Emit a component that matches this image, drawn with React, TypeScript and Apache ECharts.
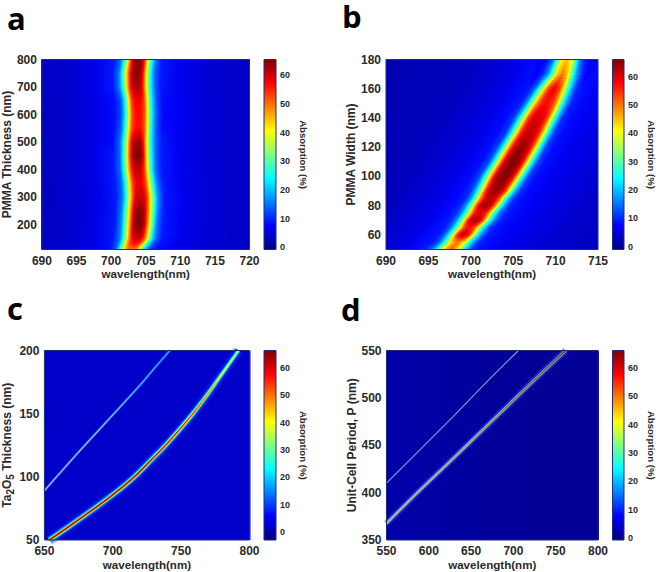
import React, { useEffect, useRef } from "react";
import * as echarts from "echarts";

// ---------- tick labels ----------
const aXTicks = [690, 695, 700, 705, 710, 715, 720];
const aYTicks = [200, 300, 400, 500, 600, 700, 800];
const bXTicks = [690, 695, 700, 705, 710, 715];
const bYTicks = [60, 80, 100, 120, 140, 160, 180];
const cXTicks = [650, 700, 750, 800];
const cYTicks = [50, 100, 150, 200];
const dXTicks = [550, 600, 650, 700, 750, 800];
const dYTicks = [350, 400, 450, 500, 550];
const barTicks = [0, 10, 20, 30, 40, 50, 60];

// ---------- panel a: ridge, read row by row ----------
const aRowThickness = [110, 150, 200, 250, 300, 350, 400, 450, 500, 550, 600, 650, 700, 750, 800];
const aRowCentre = [703.2, 703.8, 704.0, 704.1, 704.2, 704.05, 703.85, 703.82, 703.8, 703.9, 703.95, 703.9, 703.7, 703.7, 703.9];
const aOffsets = [-20, -14, -9, -6, -3.5, -2.6, -2.2, -1.75, -1.3, -0.87, -0.44, 0, 0.44, 0.87, 1.3, 1.75, 2.2, 2.6, 3.5, 6, 9, 14, 20];
const aLeftTail = [2.5, 3.5, 4.5, 6];
const aRightTail = [6.5, 5, 4, 3];
const aProfiles = [
  [8, 13, 20, 32, 42, 48, 50, 50, 48, 40, 28, 19, 13, 10, 8],
  [9, 15, 22, 33, 46, 56, 60, 61, 60, 55, 45, 33, 22, 15, 9],
  [9, 16, 24, 36, 48, 60, 65, 66, 65, 60, 48, 36, 23, 15, 9],
  [9, 16, 24, 36, 48, 60, 64, 65, 64, 59, 48, 36, 24, 16, 9],
  [9, 15, 22, 33, 46, 56, 60, 61, 60, 56, 46, 35, 24, 16, 9],
  [9, 14, 21, 31, 44, 54, 58, 59, 58, 54, 44, 32, 22, 15, 9],
  [9, 14, 22, 32, 46, 56, 60, 61, 60, 55, 44, 31, 21, 14, 9],
  [9, 14, 22, 33, 48, 60, 65, 66, 65, 58, 43, 30, 21, 14, 9],
  [8, 14, 21, 31, 46, 58, 63, 64, 63, 56, 42, 29, 20, 14, 9],
  [8, 13, 19, 29, 43, 53, 56, 57, 56, 52, 41, 28, 19, 13, 8],
  [8, 12, 18, 28, 42, 53, 56, 57, 56, 52, 41, 28, 19, 13, 8],
  [8, 12, 18, 28, 43, 54, 57, 58, 57, 53, 41, 28, 19, 13, 8],
  [9, 15, 22, 33, 47, 58, 62, 63, 62, 56, 43, 30, 21, 14, 9],
  [9, 15, 23, 35, 48, 59, 64, 65, 64, 58, 44, 31, 21, 14, 9],
  [9, 14, 21, 31, 46, 58, 64, 65, 64, 58, 44, 30, 21, 14, 9],
];

// ---------- panel b: ridge, read row by row ----------
const bRowWidth = [50, 55, 60, 65, 70, 75, 80, 85, 90, 100, 110, 120, 130, 140, 150, 160, 170, 180];
const bRowCentre = [697.6, 698.4, 699.1, 699.8, 700.5, 701.1, 701.7, 702.3, 702.9, 703.9, 705.0, 706.0, 707.0, 707.9, 708.9, 709.8, 710.8, 711.3];
const bOffsets = [-25, -12, -8, -5.5, -3.8, -2.9, -2.3, -1.65, -1.15, -0.66, 0, 0.66, 1.15, 1.65, 2.3, 2.9, 3.8, 5.5, 8, 12, 25];
const bLeftTail = [2, 3, 4.5, 6, 8];
const bRightTail = [8, 6.5, 5.5, 4, 2];
const bProfiles = [
  [10, 14, 24, 36, 45, 52, 45, 36, 23, 13, 9],
  [9, 12, 22, 34, 44, 50, 44, 34, 22, 12, 9],
  [9, 13, 24, 40, 57, 63, 57, 42, 26, 14, 9],
  [9, 13, 25, 38, 52, 58, 52, 38, 25, 13, 9],
  [10, 15, 28, 46, 60, 64, 60, 47, 29, 16, 10],
  [10, 15, 28, 44, 56, 60, 56, 44, 28, 15, 10],
  [10, 17, 32, 50, 61, 64, 61, 50, 33, 17, 10],
  [10, 17, 33, 49, 59, 62, 59, 50, 33, 17, 10],
  [11, 20, 38, 55, 62, 65, 62, 55, 38, 20, 11],
  [12, 24, 43, 58, 64, 66, 64, 58, 43, 24, 12],
  [12, 24, 44, 58, 64, 66, 64, 58, 43, 24, 12],
  [12, 23, 43, 56, 62, 65, 62, 56, 42, 23, 11],
  [11, 22, 40, 54, 60, 62, 60, 54, 40, 21, 11],
  [11, 21, 38, 53, 59, 61, 59, 53, 38, 21, 10],
  [10, 18, 35, 48, 55, 58, 55, 48, 34, 18, 10],
  [9, 14, 28, 42, 54, 59, 54, 42, 28, 14, 9],
  [7, 10, 18, 30, 43, 50, 43, 30, 18, 10, 7],
  [6, 8, 14, 26, 40, 45, 40, 26, 14, 8, 6],
];

// ---------- panel c: background and two ridges ----------
const cBgWave = [650, 800];
const cBgThick = [50, 200];
const cBgValues = [[2.0]];
const cMainWave = [653.6, 674.2, 698.4, 715.4, 729.9, 739.9, 756.8, 768.9, 781, 792];
const cMainThick = [50, 65.5, 84.5, 99.6, 115.4, 126.5, 147.6, 164.7, 183.2, 200];
const cMainPeak = [65, 65, 64, 63, 62, 60, 56, 48, 40, 35];
const cSecondWave = [650, 660.9, 674.2, 686.3, 697.2, 720.5, 730.1, 741.7];
const cSecondThick = [89, 102.5, 118.6, 132.9, 145.7, 173.2, 185.5, 200];
const cSecondColours = ["#98b2d6", "#94b6da", "#90bce0", "#8cc0e2", "#7cbce6", "#50aeea", "#40a6ea", "#389ee8"];

// ---------- panel d: background and two ridges ----------
const dBgWave = [550, 570, 590, 620, 660, 720, 800];
const dBgPeriod = [350, 550];
const dBgValues = [[2.0, 1.8, 1.6, 1.3, 1.0, 0.8]];
const dMainWave = [550, 588.8, 616.4, 647.9, 678.6, 696, 719.6, 743.3, 762];
const dMainPeriod = [367.5, 402, 425.5, 452.5, 479, 494, 514.5, 534.5, 550];
const dMainCore = ["#a8a8a6", "#a4a4a0", "#a09f96", "#98967c", "#8f8458", "#86683c", "#7a4a28", "#6c3018", "#642410"];
const dSecondWave = [550, 624, 672, 706];
const dSecondPeriod = [410, 476, 520, 550];

// ---------- colour scale ----------
const jetStops: [number, number[]][] = [
  [0, [0, 0, 0.5]],
  [0.125, [0, 0, 1]],
  [0.375, [0, 1, 1]],
  [0.625, [1, 1, 0]],
  [0.875, [1, 0, 0]],
  [1, [0.5, 0, 0]],
];
function jet(t: number) {
  const u = Math.max(0, Math.min(1, t));
  for (let i = 1; i < jetStops.length; i++) {
    if (u <= jetStops[i][0]) {
      const [a, ca] = jetStops[i - 1];
      const [b, cb] = jetStops[i];
      const f = (u - a) / (b - a);
      const c = ca.map((q, k) => Math.round(255 * (q + (cb[k] - q) * f)));
      return `rgb(${c[0]},${c[1]},${c[2]})`;
    }
  }
  return "rgb(128,0,0)";
}

const TEXT = "#2a2a2a";
const FRAME = "#1f2c7c";
const FONT = "Liberation Sans";

type Panel = {
  left: number; right: number; top: number; bottom: number;
  barLeft: number; barRight: number;
  xMin: number; xMax: number; yMin: number; yMax: number;
  xTicks: number[]; yTicks: number[];
  barMin: number; barMax: number;
  yName: string; yGap: number;
};

const panels: Panel[] = [
  { left: 38, right: 249.5, top: 59.5, bottom: 249.5, barLeft: 264, barRight: 276, xMin: 690, xMax: 720, yMin: 110, yMax: 800, xTicks: aXTicks, yTicks: aYTicks, barMin: -0.8, barMax: 65.5, yName: "PMMA Thickness (nm)", yGap: 22 },
  { left: 386, right: 598, top: 59.5, bottom: 249.5, barLeft: 612.5, barRight: 624, xMin: 690, xMax: 715, yMin: 50, yMax: 180, xTicks: bXTicks, yTicks: bYTicks, barMin: -1, barMax: 66, yName: "PMMA Width (nm)", yGap: 19 },
  { left: 43, right: 249.5, top: 350.5, bottom: 540, barLeft: 264, barRight: 276, xMin: 650, xMax: 800, yMin: 50, yMax: 200, xTicks: cXTicks, yTicks: cYTicks, barMin: -2.9, barMax: 66.4, yName: "{b|Ta}{s|2}{b|O}{s|5}{b| Thickness (nm)}", yGap: 26 },
  { left: 386.5, right: 598, top: 350.5, bottom: 540, barLeft: 612.5, barRight: 624, xMin: 550, xMax: 800, yMin: 350, yMax: 550, xTicks: dXTicks, yTicks: dYTicks, barMin: -0.7, barMax: 66.2, yName: "Unit-Cell Period, P (nm)", yGap: 19 },
];

const letters = [
  { text: "a", x: 7, y: 2.5 },
  { text: "b", x: 342, y: 0 },
  { text: "c", x: 7, y: 292.5 },
  { text: "d", x: 341, y: 293.5 },
];

function mergeProfile(left: number[], mid: number[], right: number[]) {
  return [...left, ...mid, ...right];
}

function ridgeSeries(idx: number, p: Panel, ys: number[], centres: number[], offsets: number[], profiles: number[][]) {
  const span = p.barMax - p.barMin;
  const o0 = offsets[0];
  const oN = offsets[offsets.length - 1];
  const SUB = 5;
  return {
    type: "custom",
    coordinateSystem: "cartesian2d",
    xAxisIndex: idx * 2,
    yAxisIndex: idx * 2,
    clip: true,
    silent: true,
    z: 2,
    data: ys.map((y, i) => [centres[i], y]),
    renderItem: (params: any, api: any) => {
      const i = params.dataIndex;
      if (i >= ys.length - 1) return null;
      const children: any[] = [];
      for (let s = 0; s < SUB; s++) {
        const f1 = s / SUB;
        const f2 = (s + 1) / SUB;
        const fm = (f1 + f2) / 2;
        const c1 = centres[i] + (centres[i + 1] - centres[i]) * f1;
        const c2 = centres[i] + (centres[i + 1] - centres[i]) * f2;
        const y1 = ys[i] + (ys[i + 1] - ys[i]) * f1;
        const y2 = ys[i] + (ys[i + 1] - ys[i]) * f2;
        const A = api.coord([c1 + o0, y1]);
        const B = api.coord([c1 + oN, y1]);
        const C = api.coord([c2 + oN, y2]);
        const D = api.coord([c2 + o0, y2]);
        const ex = D[0] - A[0];
        const ey = D[1] - A[1];
        const len = Math.hypot(ex, ey);
        const nx = ey / len;
        const ny = -ex / len;
        const proj = (B[0] - A[0]) * nx + (B[1] - A[1]) * ny;
        const stops: any[] = [];
        const values = offsets.map((_, j) => profiles[i][j] + (profiles[i + 1][j] - profiles[i][j]) * fm);
        for (let j = 0; j < offsets.length - 1; j++) {
          const steps = Math.max(1, Math.ceil(Math.abs(values[j + 1] - values[j]) / 4));
          for (let k = 0; k < steps; k++) {
            const g = k / steps;
            const off = offsets[j] + (offsets[j + 1] - offsets[j]) * g;
            const val = values[j] + (values[j + 1] - values[j]) * g;
            stops.push({ offset: (off - o0) / (oN - o0), color: jet((val - p.barMin) / span) });
          }
        }
        stops.push({ offset: 1, color: jet((values[values.length - 1] - p.barMin) / span) });
        children.push({
          type: "polygon",
          shape: { points: [A, B, [C[0], C[1] - 1.2], [D[0], D[1] - 1.2]] },
          style: {
            fill: { type: "linear", x: A[0], y: A[1], x2: A[0] + nx * proj, y2: A[1] + ny * proj, global: true, colorStops: stops },
          },
        });
      }
      return { type: "group", children };
    },
  };
}

function cellSeries(idx: number, p: Panel, xs: number[], ys: number[], values: number[][]) {
  const data: number[][] = [];
  values.forEach((row, r) => row.forEach((v, c) => data.push([xs[c], ys[r], v, c, r])));
  return {
    type: "custom",
    coordinateSystem: "cartesian2d",
    xAxisIndex: idx * 2,
    yAxisIndex: idx * 2,
    clip: true,
    silent: true,
    z: 2,
    data,
    renderItem: (_: any, api: any) => {
      const c = api.value(3);
      const r = api.value(4);
      const a = api.coord([xs[c], ys[r + 1]]);
      const b = api.coord([xs[c + 1], ys[r]]);
      return {
        type: "rect",
        shape: { x: a[0], y: a[1], width: b[0] - a[0] + 1, height: b[1] - a[1] },
        style: { fill: jet((api.value(2) - p.barMin) / (p.barMax - p.barMin)) },
      };
    },
  };
}

function lineSeries(idx: number, xs: number[], ys: number[], width: number, color: any, z: number) {
  return {
    type: "line",
    xAxisIndex: idx * 2,
    yAxisIndex: idx * 2,
    data: xs.map((x, i) => [x, ys[i]]),
    symbol: "none",
    silent: true,
    clip: true,
    smooth: 0.35,
    z,
    lineStyle: { width, color, cap: "butt", join: "round" },
  };
}

function verticalGradient(ys: number[], colours: string[]) {
  const lo = ys[0];
  const hi = ys[ys.length - 1];
  return {
    type: "linear", x: 0, y: 1, x2: 0, y2: 0,
    colorStops: ys.map((y, i) => ({ offset: (y - lo) / (hi - lo), color: colours[i] })),
  };
}

function frameSeries(xAxisIndex: number, xMin: number, xMax: number, yMin: number, yMax: number) {
  return {
    type: "custom",
    coordinateSystem: "cartesian2d",
    xAxisIndex,
    yAxisIndex: xAxisIndex,
    silent: true,
    clip: false,
    z: 9,
    data: [[xMin, yMin]],
    renderItem: (_: any, api: any) => {
      const a = api.coord([xMin, yMax]);
      const b = api.coord([xMax, yMin]);
      return {
        type: "rect",
        shape: { x: a[0], y: a[1], width: b[0] - a[0], height: b[1] - a[1] },
        style: { fill: "none", stroke: FRAME, lineWidth: 1 },
      };
    },
  };
}

function barSeries(idx: number, p: Panel) {
  return {
    type: "custom",
    coordinateSystem: "cartesian2d",
    xAxisIndex: idx * 2 + 1,
    yAxisIndex: idx * 2 + 1,
    silent: true,
    z: 2,
    data: [[0, p.barMin]],
    renderItem: (_: any, api: any) => {
      const a = api.coord([0, p.barMax]);
      const b = api.coord([1, p.barMin]);
      return {
        type: "rect",
        shape: { x: a[0], y: a[1], width: b[0] - a[0], height: b[1] - a[1] },
        style: {
          fill: {
            type: "linear", x: 0, y: 1, x2: 0, y2: 0,
            colorStops: jetStops.map(([offset, c]) => ({
              offset,
              color: `rgb(${c.map((q) => Math.round(q * 255)).join(",")})`,
            })),
          },
        },
      };
    },
  };
}

function buildOption() {
  const grids: any[] = [];
  const xAxes: any[] = [];
  const yAxes: any[] = [];
  const series: any[] = [];

  panels.forEach((p, i) => {
    grids.push({ left: p.left, top: p.top, width: p.right - p.left, height: p.bottom - p.top, containLabel: false });
    grids.push({ left: p.barLeft, top: p.top, width: p.barRight - p.barLeft, height: p.bottom - p.top, containLabel: false });
    xAxes.push({
      type: "value", gridIndex: i * 2, min: p.xMin, max: p.xMax,
      name: "wavelength(nm)", nameLocation: "middle", nameGap: 18,
      nameTextStyle: { fontFamily: FONT, fontWeight: "bold", fontSize: 11.6, color: TEXT },
      axisLine: { show: false }, axisTick: { show: false }, splitLine: { show: false },
      axisLabel: { customValues: p.xTicks, margin: 5, fontFamily: FONT, fontWeight: "bold", fontSize: 12, color: TEXT, hideOverlap: false },
    });
    yAxes.push({
      type: "value", gridIndex: i * 2, min: p.yMin, max: p.yMax,
      name: p.yName, nameLocation: "middle", nameGap: p.yGap,
      nameTextStyle: {
        fontFamily: FONT, fontWeight: "bold", fontSize: 12, color: TEXT,
        rich: {
          b: { fontFamily: FONT, fontWeight: "bold", fontSize: 12, color: TEXT },
          s: { fontFamily: FONT, fontWeight: "bold", fontSize: 10, color: TEXT, padding: [7, 0, 0, 0] },
        },
      },
      axisLine: { show: false }, axisTick: { show: false }, splitLine: { show: false },
      axisLabel: { customValues: p.yTicks, margin: 5, fontFamily: FONT, fontWeight: "bold", fontSize: 12, color: TEXT },
    });
    xAxes.push({ type: "value", gridIndex: i * 2 + 1, min: 0, max: 1, show: false });
    yAxes.push({
      type: "value", gridIndex: i * 2 + 1, min: p.barMin, max: p.barMax, position: "right",
      name: "Absorption (%)", nameLocation: "middle", nameGap: 22, nameRotate: -90,
      nameTextStyle: { fontFamily: FONT, fontWeight: "bold", fontSize: 9.6, color: TEXT },
      axisLine: { show: false }, axisTick: { show: false }, splitLine: { show: false },
      axisLabel: { customValues: barTicks, margin: 4, fontFamily: FONT, fontWeight: "bold", fontSize: 9, color: TEXT },
    });
    series.push(barSeries(i, p));
    series.push(frameSeries(i * 2 + 1, 0, 1, p.barMin, p.barMax));
    series.push(frameSeries(i * 2, p.xMin, p.xMax, p.yMin, p.yMax));
  });

  const [pa, pb, pc, pd] = panels;
  series.push(ridgeSeries(0, pa, aRowThickness, aRowCentre, aOffsets, aProfiles.map((r) => mergeProfile(aLeftTail, r, aRightTail))));
  series.push(ridgeSeries(1, pb, bRowWidth, bRowCentre, bOffsets, bProfiles.map((r) => mergeProfile(bLeftTail, r, bRightTail))));

  series.push(cellSeries(2, pc, cBgWave, cBgThick, cBgValues));
  const cCol = (factor: number) => cMainPeak.map((v) => jet((v * factor - pc.barMin) / (pc.barMax - pc.barMin)));
  series.push(lineSeries(2, cMainWave, cMainThick, 11, "rgba(0,50,255,0.3)", 3));
  series.push(lineSeries(2, cMainWave, cMainThick, 6.5, verticalGradient(cMainThick, cCol(0.2)), 3));
  series.push(lineSeries(2, cMainWave, cMainThick, 4.2, verticalGradient(cMainThick, cCol(0.42)), 4));
  series.push(lineSeries(2, cMainWave, cMainThick, 2.6, verticalGradient(cMainThick, cCol(0.72)), 5));
  series.push(lineSeries(2, cMainWave, cMainThick, 1.3, verticalGradient(cMainThick, cCol(1)), 6));
  series.push(lineSeries(2, cSecondWave, cSecondThick, 3.2, "rgba(0,90,255,0.45)", 3));
  series.push(lineSeries(2, cSecondWave, cSecondThick, 1.5, verticalGradient(cSecondThick, cSecondColours), 4));

  series.push(cellSeries(3, pd, dBgWave, dBgPeriod, dBgValues));
  series.push(lineSeries(3, dMainWave, dMainPeriod, 6.5, "rgba(0,80,255,0.5)", 3));
  series.push(lineSeries(3, dMainWave, dMainPeriod, 2.8, "#aeaeaa", 4));
  series.push(lineSeries(3, dMainWave, dMainPeriod, 1.1, verticalGradient(dMainPeriod, dMainCore), 5));
  series.push(lineSeries(3, dSecondWave, dSecondPeriod, 1.1, "#6ea6e6", 4));

  return {
    animation: false,
    backgroundColor: "#ffffff",
    textStyle: { fontFamily: FONT },
    grid: grids,
    xAxis: xAxes,
    yAxis: yAxes,
    series,
    graphic: letters.map((l) => ({
      type: "text", x: l.x, y: l.y,
      style: { text: l.text, fontFamily: "Open Sans", fontWeight: "bold", fontSize: 31, fill: "#000000" },
      silent: true,
    })),
  };
}

export default function App() {
  const ref = useRef<HTMLDivElement>(null);
  useEffect(() => {
    const chart = echarts.init(ref.current!, undefined, { renderer: "svg" });
    chart.setOption(buildOption() as any);
    return () => chart.dispose();
  }, []);
  return <div ref={ref} style={{ position: "fixed", left: 0, top: 0, width: 660, height: 572, background: "#fff" }} />;
}
